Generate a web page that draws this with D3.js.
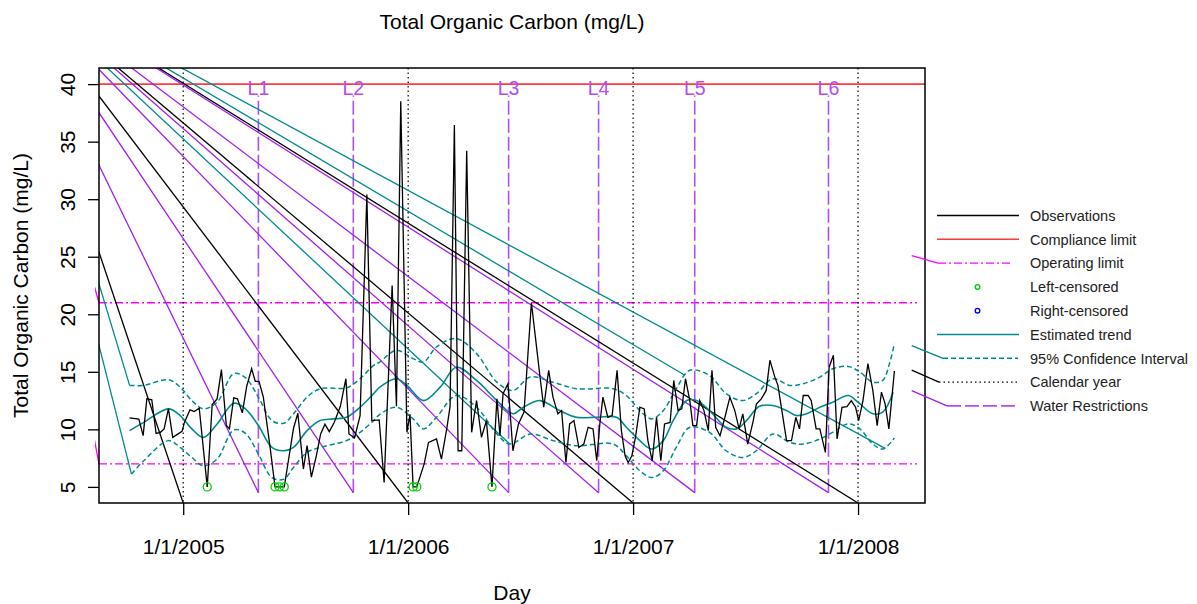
<!DOCTYPE html>
<html><head><meta charset="utf-8">
<script src="https://cdn.jsdelivr.net/npm/d3@7"></script>
<style>body{margin:0;background:#fff} text{font-family:"Liberation Sans",Arial,sans-serif;fill:#000}</style>
</head><body><svg id="c" width="1197" height="604"></svg>
<script>
// ---------------- data (days since 1/1/2005, mg/L) ----------------
const observations = [
[-87,11.0],[-72,10.9],[-65,9.45],[-59,12.65],[-51,12.57],[-44,9.65],[-37,9.74],[-31,10.04],[-24,11.8],[-17,9.3],
[-2,9.83],[2,10.6],[11,11.7],[18,11.55],[26,11.84],[39,5],[47,12.16],[55,12.65],[62,15.19],[70,10.33],
[75,10.04],[82,12.74],[88,12.65],[96,11.43],[103,13.73],[111,15.27],[117,14.17],[123,14.17],[130,12.8],[141,8.43],
[149,5],[156,5],[164,5],[179,10.1],[186,11.4],[195,6.55],[201,8.58],[208,5.85],[216,7.7],[223,9.6],
[230,10.45],[237,9.8],[245,10.6],[255,12.0],[264,14.4],[269,9.6],[278,9.25],[287,11.2],[298,30.4],[306,10.76],
[318,10.82],[326,5.38],[339,22.5],[346,12.0],[353,38.5],[363,9.74],[368,11.3],[373,5],[379,5],[391,7.0],
[398,8.87],[411,9.16],[419,7.42],[428,10.18],[433,12.0],[440,36.45],[446,8.14],[452,8.14],[460,34.2],[468,9.74],
[476,12.5],[484,9.31],[492,10.76],[501,5],[509,12.65],[514,9.45],[519,13.1],[527,13.96],[535,8.14],[544,10.47],
[553,11.5],[565,21.0],[579,14.54],[585,11.92],[593,15.13],[600,12.8],[608,11.35],[614,11.63],[621,7.12],[627,10.47],
[634,10.76],[642,8.43],[650,8.72],[657,10.18],[665,10.04],[671,7.27],[676,10.47],[681,12.8],[689,11.05],[696,11.2],
[704,15.13],[711,9.89],[717,7.7],[722,7.12],[728,7.7],[734,9.37],[741,11.92],[748,11.78],[754,9.02],[761,7.27],
[768,11.05],[775,7.27],[781,10.47],[790,10.6],[796,14.25],[803,11.63],[809,11.78],[815,14.4],[822,12.5],[827,10.33],
[833,10.33],[838,12.5],[845,11.63],[852,9.89],[858,15.13],[864,10.18],[871,9.45],[879,11.05],[887,12.8],[895,11.63],
[902,10.04],[908,11.35],[916,8.72],[925,10.76],[930,12.2],[938,12.65],[946,13.38],[952,16.0],[960,14.54],[965,13.82],
[979,9.02],[987,9.02],[994,11.05],[1000,10.04],[1006,12.94],[1014,12.94],[1019,12.5],[1027,10.04],[1033,10.04],[1042,8.0],
[1048,15.4],[1055,16.44],[1061,9.16],[1069,11.92],[1077,11.98],[1084,12.5],[1091,11.92],[1096,10.76],[1103,12.5],[1111,15.71],
[1119,13.38],[1126,10.33],[1133,13.23],[1139,12.2],[1145,10.04],[1154,15.07]
];
const leftCensored = [[39,5],[149,5],[156,5],[164,5],[373,5],[379,5],[501,5]];
const trend = [
[-87,9.89],[-64,10.61],[-24,11.78],[-5,11.2],[14,10.04],[33,9.3],[55,10.47],[82,12.27],[101,11.78],[122,10.33],
[144,8.43],[163,8.14],[179,8.43],[201,9.89],[222,10.76],[244,10.91],[265,11.05],[287,11.92],[309,13.1],[319,13.67],
[346,14.4],[363,13.82],[390,12.5],[417,13.67],[443,15.4],[476,14.25],[509,12.5],[535,11.35],[552,11.92],[579,12.5],
[611,11.63],[638,11.05],[671,11.05],[703,11.05],[719,10.18],[741,9.02],[760,8.29],[779,9.02],[795,10.76],[817,12.5],
[833,12.5],[854,11.63],[881,10.18],[898,10.04],[914,10.76],[935,12.0],[957,12.07],[979,11.63],[995,11.2],[1011,11.35],
[1033,11.92],[1054,12.36],[1079,12.94],[1095,12.36],[1119,11.35],[1135,11.49],[1152,13.23]
];
const ciUpper = [
[-87,13.82],[-64,13.82],[-24,14.31],[-5,13.67],[14,12.5],[33,11.78],[55,12.36],[82,14.84],[101,14.49],[122,12.8],
[144,10.76],[163,10.53],[179,11.35],[201,12.8],[222,13.53],[265,13.61],[287,14.4],[309,15.56],[319,15.85],[346,16.87],
[373,16.15],[390,15.85],[411,17.16],[443,17.89],[476,16.58],[509,14.1],[535,13.38],[563,14.54],[600,14.1],[638,13.53],
[698,13.53],[719,12.94],[741,11.63],[760,10.91],[779,11.63],[800,13.53],[822,15.13],[854,14.69],[881,13.1],[908,12.5],
[930,13.1],[957,14.4],[984,13.82],[1006,13.96],[1033,14.54],[1054,15.27],[1079,15.47],[1098,14.98],[1119,14.1],[1135,14.25],
[1146,15.71],[1154,17.46]
];
const ciLower = [
[-84,6.11],[-64,7.27],[-24,9.02],[-5,8.43],[14,7.56],[33,6.83],[55,7.42],[82,9.95],[101,9.65],[122,7.85],
[144,5.81],[163,5.67],[179,6.69],[201,8.0],[222,8.43],[265,9.02],[287,9.74],[309,10.76],[319,11.3],[346,11.92],
[373,10.91],[390,10.04],[411,11.05],[443,12.94],[476,11.92],[509,9.6],[530,8.72],[563,9.6],[600,9.02],[638,8.58],
[698,8.72],[719,7.7],[741,6.4],[760,5.81],[779,6.4],[800,8.43],[822,10.18],[854,9.74],[881,8.14],[908,7.56],
[930,8.14],[957,9.6],[984,8.87],[1006,8.72],[1033,9.16],[1054,9.74],[1079,10.47],[1098,10.04],[1119,8.72],[1135,8.29],
[1154,9.25]
];
const yearTicks = ["2005-01-01","2006-01-01","2007-01-01","2008-01-01"];
const yearLabels = ["1/1/2005","1/1/2006","1/1/2007","1/1/2008"];
const restrictionDays = [122,276,528,674,830,1047];
const restrictionLabels = ["L1","L2","L3","L4","L5","L6"];
const restrictionRange = [4.5,39];
const complianceLimit = 40;
const operatingLimits = [21,7];
const yTicks = [5,10,15,20,25,30,35,40];
// stray connector lines (all leave one common point outside the plot)
const strayOrigin = [-289,49.7];
const strayTeal = [[-87,13.82],[-84,6.11],[530,8.72],[814,14.7],[1139,8.35]];
const legendLabels = ["Observations","Compliance limit","Operating limit","Left-censored","Right-censored",
  "Estimated trend","95% Confidence Interval","Calendar year","Water Restrictions"];

// ---------------- drawing ----------------
const svg = d3.select("#c");
const P = {left:99,right:925,top:68,bottom:503};
const base = new Date(2005,0,1);
const toDate = d => d3.timeDay.offset(base, Math.round(d));
const parse = d3.timeParse("%Y-%m-%d");
const COL = {teal:"#008B8B", purple:"#A020F0", lpurple:"#B14EF2", red:"#FF3B3B", mag:"#FF00FF", green:"#00D000"};
const FS = "21px";

const days = observations.map(d=>d[0]);
const t0 = toDate(d3.min(days)).getTime(), t1 = toDate(d3.max(days)).getTime();
const pad = 0.04*(t1-t0);
const x = d3.scaleTime().domain([new Date(t0-pad), new Date(t1+pad)]).range([P.left,P.right]);
const ymin = 5, ymax = complianceLimit;
const ypad = 0.04*(ymax-ymin);
const y = d3.scaleLinear().domain([ymin-ypad, ymax+ypad]).range([P.bottom,P.top]);
const X = d => x(toDate(d));

const defs = svg.append("defs");
defs.append("clipPath").attr("id","clip").append("rect")
  .attr("x",P.left).attr("y",P.top).attr("width",P.right-P.left).attr("height",P.bottom-P.top);
defs.append("clipPath").attr("id","clipL").append("rect")
  .attr("x",P.left-4).attr("y",P.top).attr("width",P.right-P.left+4).attr("height",P.bottom-P.top);

// title
svg.append("text").attr("x",(P.left+P.right)/2).attr("y",29).attr("text-anchor","middle")
  .style("font-size",FS).text("Total Organic Carbon (mg/L)");

// compliance
svg.append("line").attr("x1",P.left).attr("x2",P.right).attr("y1",y(complianceLimit)).attr("y2",y(complianceLimit))
  .attr("stroke",COL.red).attr("stroke-width",1.6);
// operating limits
svg.selectAll(".op").data(operatingLimits).join("line")
  .attr("x1",P.left).attr("x2",917).attr("y1",d=>y(d)).attr("y2",d=>y(d))
  .attr("stroke",COL.mag).attr("stroke-width",1.3).attr("stroke-dasharray","8,3,2,3");

// calendar year
svg.selectAll(".yr").data(yearTicks).join("line")
  .attr("x1",d=>x(parse(d))).attr("x2",d=>x(parse(d))).attr("y1",P.top).attr("y2",P.bottom)
  .attr("stroke","#000").attr("stroke-width",1.2).attr("stroke-dasharray","1.5,3");

// water restrictions
svg.selectAll(".wr").data(restrictionDays).join("line")
  .attr("x1",d=>X(d)).attr("x2",d=>X(d)).attr("y1",y(restrictionRange[0])).attr("y2",y(restrictionRange[1]))
  .attr("stroke",COL.lpurple).attr("stroke-width",1.6).attr("stroke-dasharray","14,4");
svg.selectAll(".wrl").data(restrictionDays).join("text")
  .attr("x",d=>X(d)).attr("y",y(restrictionRange[1])-1).attr("text-anchor","middle")
  .style("font-size","19.5px").style("fill",COL.lpurple).text((d,i)=>restrictionLabels[i]);

// stray connectors
const g = svg.append("g").attr("clip-path","url(#clip)");
const ox = X(strayOrigin[0]), oy = y(strayOrigin[1]);
function stray(targets, color, gg){
  gg.selectAll(null).data(targets).join("line")
    .attr("x1",ox).attr("y1",oy).attr("x2",d=>d[0]).attr("y2",d=>d[1])
    .attr("stroke",color).attr("stroke-width",1.3);
}
stray(yearTicks.map(d=>[x(parse(d)), y(y.domain()[0])]), "#000", g);
stray(restrictionDays.map(d=>[X(d), y(restrictionRange[0])]), COL.purple, g);
stray(strayTeal.map(d=>[X(d[0]), y(d[1])]), COL.teal, g);
stray(operatingLimits.map(d=>[P.left, y(d)]), COL.mag, svg.append("g").attr("clip-path","url(#clipL)"));

// trend + CI
const line = d3.line().x(d=>X(d[0])).y(d=>y(d[1]));
const sm = d3.line().x(d=>X(d[0])).y(d=>y(d[1])).curve(d3.curveCatmullRom.alpha(0.5));
svg.append("path").attr("d",sm(ciUpper)).attr("fill","none").attr("stroke",COL.teal).attr("stroke-width",1.5).attr("stroke-dasharray","5,3");
svg.append("path").attr("d",sm(ciLower)).attr("fill","none").attr("stroke",COL.teal).attr("stroke-width",1.5).attr("stroke-dasharray","5,3");
svg.append("path").attr("d",sm(trend)).attr("fill","none").attr("stroke",COL.teal).attr("stroke-width",1.6);

// observations
svg.append("path").attr("d",line(observations)).attr("fill","none").attr("stroke","#000").attr("stroke-width",1.3);
svg.selectAll(".lc").data(leftCensored).join("circle")
  .attr("cx",d=>X(d[0])).attr("cy",d=>y(d[1])).attr("r",4)
  .attr("fill","none").attr("stroke",COL.green).attr("stroke-width",1.3);

// box
svg.append("rect").attr("x",P.left).attr("y",P.top).attr("width",P.right-P.left).attr("height",P.bottom-P.top)
  .attr("fill","none").attr("stroke","#000").attr("stroke-width",1.5);

// axes
const ya = svg.append("g").attr("transform",`translate(${P.left},0)`)
  .call(d3.axisLeft(y).tickValues(yTicks).tickSize(11).tickFormat(d3.format("d")));
ya.select(".domain").remove();
ya.selectAll("line").attr("stroke-width",1.3);
ya.selectAll("text").attr("x",0).attr("dy",null).attr("y",0)
  .attr("transform","translate(-24,0) rotate(-90)").attr("text-anchor","middle")
  .style("font-size",FS).style("font-family",'"Liberation Sans",Arial,sans-serif');
const xa = svg.append("g").attr("transform",`translate(0,${P.bottom})`)
  .call(d3.axisBottom(x).tickValues(yearTicks.map(parse)).tickSize(12).tickFormat((d,i)=>yearLabels[i]));
xa.select(".domain").remove();
xa.selectAll("line").attr("stroke-width",1.3);
xa.selectAll("text").attr("y",51).attr("dy",null)
  .style("font-size",FS).style("font-family",'"Liberation Sans",Arial,sans-serif');

svg.append("text").attr("x",(P.left+P.right)/2).attr("y",600).attr("text-anchor","middle")
  .style("font-size",FS).text("Day");
svg.append("text").attr("transform",`translate(28,${(P.top+P.bottom)/2}) rotate(-90)`).attr("text-anchor","middle")
  .style("font-size",FS).text("Total Organic Carbon (mg/L)");

// legend
const L = {x1:937, x2:1019, tx:1030, y0:215.5, dy:23.8};
const lg = svg.append("g");
const ly = i => L.y0 + i*L.dy;
const seg = (i,x1,x2,col,dash,w) => lg.append("line").attr("x1",x1).attr("x2",x2).attr("y1",ly(i)).attr("y2",ly(i))
  .attr("stroke",col).attr("stroke-width",w||1.4).attr("stroke-dasharray",dash||null);
seg(0,L.x1,L.x2,"#000");
seg(1,L.x1,L.x2,COL.red);
seg(2,938,1012,COL.mag,"8,3,2,3",1.3);
lg.append("circle").attr("cx",977.5).attr("cy",ly(3)).attr("r",2.3).attr("fill","none").attr("stroke",COL.green).attr("stroke-width",1.4);
lg.append("circle").attr("cx",977.5).attr("cy",ly(4)).attr("r",2.3).attr("fill","none").attr("stroke","#0000FF").attr("stroke-width",1.4);
seg(5,L.x1,L.x2,COL.teal,null,1.5);
seg(6,943,1018,COL.teal,"5,3",1.5);
seg(7,939,1019,"#000","1.5,3",1.2);
seg(8,947,1015,COL.lpurple,"14,4",1.6);
// bent connectors into the legend keys
const bent = [[2,911.7,-7.5,938,COL.mag],[6,911.7,-12.6,943,COL.teal],[7,911.7,-12,939,"#000"],[8,911.7,-15.3,947,COL.purple]];
bent.forEach(b=>lg.append("line").attr("x1",b[1]).attr("y1",ly(b[0])+b[2]).attr("x2",b[3]).attr("y2",ly(b[0]))
  .attr("stroke",b[4]).attr("stroke-width",1.3));
lg.selectAll(".lt").data(legendLabels).join("text").attr("x",L.tx).attr("y",(d,i)=>ly(i)).attr("dy","0.36em")
  .style("font-size","14.5px").style("fill","#222").text(d=>d);
</script></body></html>
